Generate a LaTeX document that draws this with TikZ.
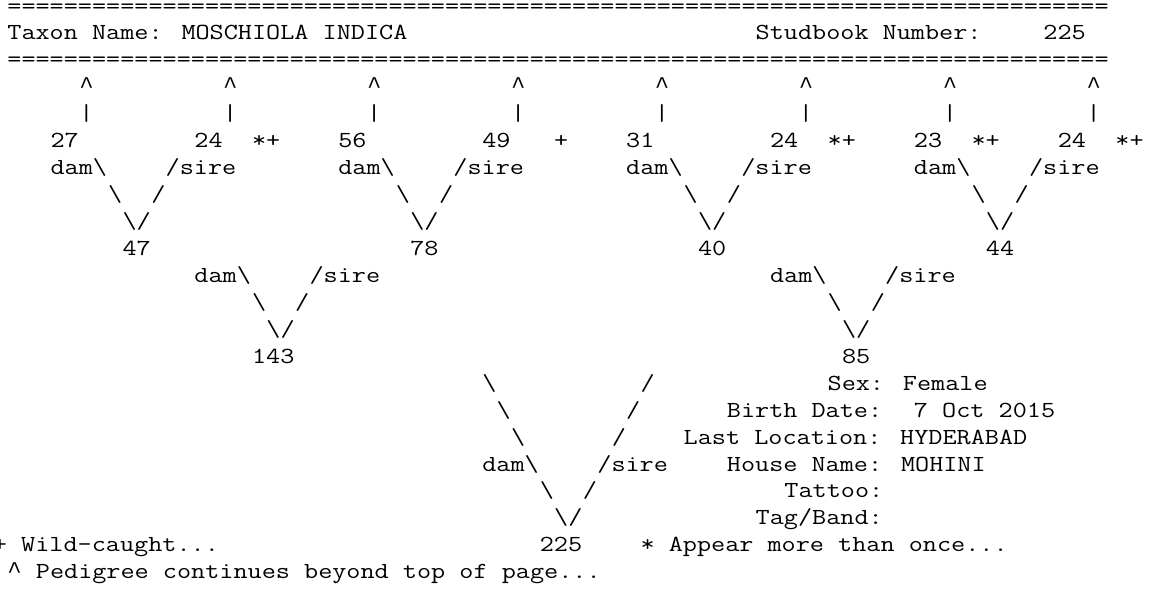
\documentclass[tikz,border=0pt]{standalone}
\usepackage{fontspec}
\newfontfamily\cour{Latin Modern Mono}[FakeStretch=1.192]
\newfontfamily\lib{Liberation Mono}
\tikzset{txt/.style={anchor=base west, inner sep=0pt, outer sep=0pt, font=\cour\fontsize{23}{26.94}\selectfont, text=black}}
% #1 name, #2 column, #3 line, #4 text
\newcommand{\tx}[4]{\node[txt] (#1) at ({-7pt+(#2)*14.39pt},{-13.06pt-(#3-1)*26.94pt}) {#4};}
\newcommand{\bs}{\textbackslash}
\newcommand{\crt}{{\lib\fontsize{23.98}{26.94}\selectfont\textasciicircum}}
\begin{document}
\begin{tikzpicture}
\fill[white] (0,0) rectangle (1151pt,-594pt);
\useasboundingbox (0,0) rectangle (1151pt,-594pt);
% header
\tx{rule1}{1}{1}{==============================================================================}
\tx{taxon}{1}{2}{Taxon Name: MOSCHIOLA INDICA}
\tx{sblabel}{53}{2}{Studbook Number:}
\tx{sbnum}{73}{2}{225}
\tx{rule2}{1}{3}{==============================================================================}
% continuation marks
\foreach \c [count=\i] in {6,16,26,36,46,56,66,76}{
  \tx{up\i}{\c}{4}{\crt}
  \tx{bar\i}{\c}{5}{|}
}
% great-grandparents
\tx{g27}{4}{6}{27}
\tx{g24a}{14}{6}{24}
\tx{m1}{18}{6}{*+}
\tx{g56}{24}{6}{56}
\tx{g49}{34}{6}{49}
\tx{m2}{39}{6}{+}
\tx{g31}{44}{6}{31}
\tx{g24b}{54}{6}{24}
\tx{m3}{58}{6}{*+}
\tx{g23}{64}{6}{23}
\tx{m4}{68}{6}{*+}
\tx{g24c}{74}{6}{24}
\tx{m5}{78}{6}{*+}
% links to grandparents
\foreach \d [count=\i] in {4,24,44,64}{
  \tx{dama\i}{\d}{7}{dam\bs}
  \tx{sirea\i}{\d+8}{7}{/sire}
  \tx{la\i}{\d+4}{8}{\bs}
  \tx{ra\i}{\d+7}{8}{/}
  \tx{va\i}{\d+5}{9}{\bs/}
}
% grandparents
\tx{p47}{9}{10}{47}
\tx{p78}{29}{10}{78}
\tx{p40}{49}{10}{40}
\tx{p44}{69}{10}{44}
% links to parents
\tx{damb1}{14}{11}{dam\bs}
\tx{sireb1}{22}{11}{/sire}
\tx{lb1}{18}{12}{\bs}
\tx{rb1}{21}{12}{/}
\tx{vb1}{19}{13}{\bs/}
\tx{damb2}{54}{11}{dam\bs}
\tx{sireb2}{62}{11}{/sire}
\tx{lb2}{58}{12}{\bs}
\tx{rb2}{61}{12}{/}
\tx{vb2}{59}{13}{\bs/}
% parents
\tx{p143}{18}{14}{143}
\tx{p85}{59}{14}{85}
% links to subject
\tx{lc1}{34}{15}{\bs}
\tx{rc1}{45}{15}{/}
\tx{lc2}{35}{16}{\bs}
\tx{rc2}{44}{16}{/}
\tx{lc3}{36}{17}{\bs}
\tx{rc3}{43}{17}{/}
\tx{damc}{34}{18}{dam\bs}
\tx{sirec}{42}{18}{/sire}
\tx{lc5}{38}{19}{\bs}
\tx{rc5}{41}{19}{/}
\tx{vc}{39}{20}{\bs/}
\tx{subj}{38}{21}{225}
% details
\tx{sex}{58}{15}{Sex: Female}
\tx{bdl}{51}{16}{Birth Date:}
\tx{bdv}{64}{16}{7 Oct 2015}
\tx{loc}{48}{17}{Last Location: HYDERABAD}
\tx{house}{51}{18}{House Name: MOHINI}
\tx{tattoo}{55}{19}{Tattoo:}
\tx{tag}{53}{20}{Tag/Band:}
% legend
\tx{wild}{0}{21}{+ Wild-caught...}
\tx{once}{45}{21}{* Appear more than once...}
\tx{cont}{1}{22}{\crt{} Pedigree continues beyond top of page...}
\end{tikzpicture}
\end{document}
